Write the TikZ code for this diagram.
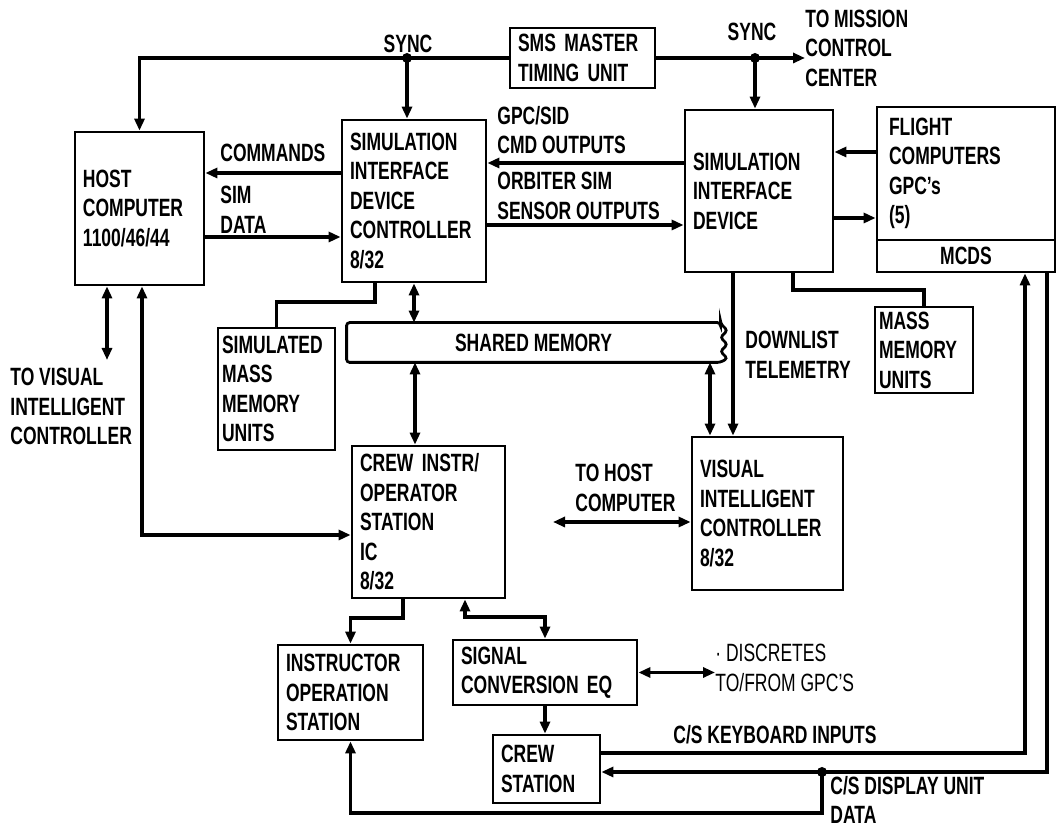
\documentclass[tikz,border=0pt]{standalone}
\usepackage{fontspec}
\setmainfont{Liberation Sans}[FakeStretch=0.7]
\usetikzlibrary{arrows.meta,positioning}

\begin{document}
\begin{tikzpicture}[
  x=0.5pt, y=-0.5pt,
  font=\fontsize{12.5}{14.75}\selectfont\bfseries,
  box/.style={draw, line width=1.4pt, align=left, inner xsep=4pt, inner ysep=2pt},
  wire/.style={line width=1.6pt},
  arrow/.style={wire, -{Triangle[length=6pt,width=5pt]}},
  dblarrow/.style={wire, {Triangle[length=6pt,width=5pt]}-{Triangle[length=6pt,width=5pt]}},
  lbl/.style={align=left, inner sep=0pt}
]
  \useasboundingbox (0,0) rectangle (1057,833);

  \node[box, text width=56.5pt, minimum height=76.5pt] (host) at (139.5,208.5) {HOST\\COMPUTER\\1100/46/44};
  \node[box, text width=64pt, minimum height=81pt] (sidc) at (414,201) {SIMULATION\\INTERFACE\\DEVICE\\CONTROLLER\\8/32};
  \node[box, text width=64.5pt, minimum height=30pt, inner ysep=1pt] (sms) at (582.5,58) {SMS MASTER\\TIMING UNIT};
  \node[box, text width=66pt, minimum height=81pt] (sid) at (759,191) {SIMULATION\\INTERFACE\\DEVICE};
  \node[box, text width=77pt, inner xsep=6pt, minimum height=66.5pt] (fc) at (966,173.5) {FLIGHT\\COMPUTERS\\GPC's\\(5)};
  \node[box, align=center, text width=81pt, minimum height=16pt, inner ysep=0pt] (mcds) at (966,256) {MCDS};
  \node[box, text width=54.5pt, inner xsep=2pt, minimum height=61pt] (smmu) at (276.5,389) {SIMULATED\\MASS\\MEMORY\\UNITS};
  \node[minimum width=186.5pt, minimum height=19.5pt, inner sep=0pt] (shmem) at (533.5,342.5) {SHARED MEMORY};
  \node[box, text width=45pt, inner xsep=2pt, minimum height=43pt] (mmu) at (924,350) {MASS\\MEMORY\\UNITS};
  \node[box, text width=68.5pt, minimum height=76pt] (cios) at (428.5,522) {CREW INSTR/\\OPERATOR\\STATION\\IC\\8/32};
  \node[box, text width=67.5pt, minimum height=76.5pt] (vic) at (767.5,513.5) {VISUAL\\INTELLIGENT\\CONTROLLER\\8/32};
  \node[box, text width=64.5pt, minimum height=47.5pt] (ios) at (350.5,692.5) {INSTRUCTOR\\OPERATION\\STATION};
  \node[box, text width=84pt, minimum height=32.5pt, inner ysep=1pt] (sce) at (545,672.5) {SIGNAL\\CONVERSION EQ};
  \node[box, text width=45.5pt, minimum height=34pt, inner ysep=1pt] (cs) at (546.5,769) {CREW\\STATION};

  \node[lbl] (sync1lbl) at (408,44) {SYNC};
  \node[lbl] (sync2lbl) at (752,32) {SYNC};
  \node[lbl, anchor=west] (mcc) at (805,48) {TO MISSION\\CONTROL\\CENTER};
  \node[lbl, anchor=west] (gpclbl) at (497,130) {GPC/SID\\CMD OUTPUTS};
  \node[lbl, anchor=west] (orblbl) at (497,196) {ORBITER SIM\\SENSOR OUTPUTS};
  \node[lbl, anchor=west] (comlbl) at (220,153) {COMMANDS};
  \node[lbl, anchor=west] (datlbl) at (220,210) {SIM\\DATA};
  \node[lbl, anchor=north west] (vislbl) at (10,368) {TO VISUAL\\INTELLIGENT\\CONTROLLER};
  \node[lbl, anchor=west] (dllbl) at (745,355) {DOWNLIST\\TELEMETRY};
  \node[lbl, anchor=west] (thlbl) at (575,488) {TO HOST\\COMPUTER};
  \node[lbl, anchor=west, font=\fontsize{12.5}{14.75}\selectfont\mdseries] (disc) at (715,668) {· DISCRETES\\TO/FROM GPC'S};
  \node[lbl, anchor=west] (kblbl) at (673,735) {C/S KEYBOARD INPUTS};
  \node[lbl, anchor=west] (dulbl) at (830,800) {C/S DISPLAY UNIT\\DATA};

  \draw[line width=1.4pt, rounded corners=1.5pt] (shmem.north east) -- (shmem.north west)
    -- (shmem.south west) -- (shmem.south east) -- ++(7,-4) -- ++(-7,-7) -- ++(7,-7)
    -- ++(-7,-7) -- ++(7,-7) -- ++(-7,-7) -- cycle;

  \coordinate (sync1) at (407,58);
  \coordinate (sync2) at (755,58);
  \draw[arrow] (sms.west) -| (host.north);
  \draw[arrow] (sync1) -- (sync1 |- sidc.north);
  \draw[arrow] (sms.east) -- (sms.east -| mcc.west);
  \draw[arrow] (sync2) -- (sync2 |- sid.north);
  \fill (sync1) circle (2.5pt);
  \fill (sync2) circle (2.5pt);

  \coordinate (fcin) at (0,152);
  \coordinate (fcout) at (0,218);
  \draw[arrow] (fc.west |- fcin) -- (sid.east |- fcin);
  \draw[arrow] (sid.east |- fcout) -- (fc.west |- fcout);
  \coordinate (cmdrow) at (0,163);
  \coordinate (senrow) at (0,225);
  \draw[arrow] (sid.west |- cmdrow) -- (sidc.east |- cmdrow);
  \draw[arrow] (sidc.east |- senrow) -- (sid.west |- senrow);
  \coordinate (comrow) at (0,173);
  \coordinate (datrow) at (0,237);
  \draw[arrow] (sidc.west |- comrow) -- (host.east |- comrow);
  \draw[arrow] (host.east |- datrow) -- (sidc.west |- datrow);

  \coordinate (visend) at (107,360);
  \draw[dblarrow] (host.south -| visend) -- (visend);
  \coordinate (hcbend) at (142,535);
  \draw[dblarrow] (host.south -| hcbend) -- (hcbend) -- (cios.west |- hcbend);

  \coordinate (smbend) at (375,302);
  \draw[wire] (sidc.south -| smbend) -- (smbend) -| (smmu.north);
  \draw[dblarrow] (sidc.south) -- (sidc.south |- shmem.north);
  \coordinate (smcx) at (415,0);
  \draw[dblarrow] (shmem.south -| smcx) -- (smcx |- cios.north);
  \coordinate (smvx) at (710,0);
  \draw[dblarrow] (shmem.south -| smvx) -- (smvx |- vic.north);

  \coordinate (dlx) at (733,0);
  \draw[arrow] (sid.south -| dlx) -- (dlx |- vic.north);
  \coordinate (mmbend) at (793,290);
  \draw[wire] (sid.south -| mmbend) -- (mmbend) -| (mmu.north);

  \coordinate (thend) at (553,522);
  \draw[dblarrow] (thend) -- (vic.west |- thend);

  \coordinate (iobend) at (403,618);
  \draw[arrow] (cios.south -| iobend) -- (iobend) -| (ios.north);
  \coordinate (scbend) at (465,617);
  \draw[dblarrow] (cios.south -| scbend) -- (scbend) -| (sce.north);
  \draw[dblarrow] (sce.east) -- (sce.east -| disc.west);
  \draw[arrow] (sce.south) -- (sce.south |- cs.north);

  \coordinate (kbbend) at (1025,753);
  \draw[arrow] (cs.east |- kbbend) -- (kbbend) -- (kbbend |- mcds.south);
  \coordinate (dubend) at (1047,772);
  \coordinate (dujoin) at (822,772);
  \draw[arrow] (mcds.south -| dubend) -- (dubend) -- (cs.east |- dubend);
  \fill (dujoin) circle (2.5pt);
  \coordinate (dulow) at (822,813);
  \draw[arrow] (dujoin) -- (dulow) -| (ios.south);
\end{tikzpicture}
\end{document}
